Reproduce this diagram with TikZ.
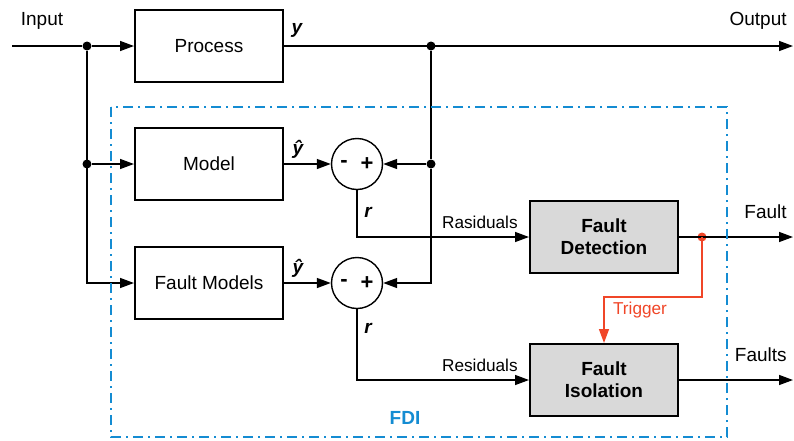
\documentclass[tikz,border=0pt]{standalone}
\usepackage{fontspec}
\setmainfont{Liberation Sans}
\usetikzlibrary{calc,
arrows.meta,
positioning}
\definecolor{fdiblue}{RGB}{20,140,210}
\definecolor{trigred}{RGB}{240,70,40}
\definecolor{boxgray}{RGB}{217,217,217}

\begin{document}
\begin{tikzpicture} [x=0.5pt, y=-0.5pt,
    -{Triangle[length=7pt,width=5pt]},
    line width=0.7pt,
    every node/.style={font={\fontsize{9.5}{11}\selectfont}},
    main node/.style={rectangle, draw, line width=1pt,
        minimum width=74pt, minimum height=36pt, align=center},
    fdi node/.style={main node, fill = boxgray,
        font={\fontsize{9.5}{11}\selectfont\bfseries}},
    sum node/.style={circle, draw, minimum size=25.5pt, inner sep=0pt},
    junc/.style={circle, fill, inner sep=0pt, minimum size=4.5pt},
    sig/.style={font={\fontsize{9.5}{11}\selectfont\bfseries\itshape}},
    side/.style={font={\fontsize{8.6}{10}\selectfont}}
  ]

  \useasboundingbox (0,0) rectangle (794,440);

  % blocks
  \node [main node] (process) at (209, 46)  {Process};
  \node [main node] (model)   at (209, 164) {Model};
  \node [main node] (fmodel)  at (209, 283) {Fault Models};
  \node [fdi node]  (detect)  at (604, 237) {Fault\\Detection};
  \node [fdi node]  (isolate) at (604, 380) {Fault\\Isolation};

  \node [sum node] (sum1) at (357, 164) {};
  \node [sum node] (sum2) at (357, 283) {};
  \foreach \s in {sum1, sum2} {
    \node [font={\fontsize{11}{11}\selectfont\bfseries}] at ($(\s.center)+(-13,0)$) {-};
    \node [font={\fontsize{11}{11}\selectfont\bfseries}] at ($(\s.center)+(10,0)$) {+};
  }

  % junctions
  \node [junc] (jin)  at (87, 46)  {};
  \node [junc] (jmod) at (87, 164) {};
  \node [junc] (jout) at (431, 46) {};
  \node [junc] (jy)   at (431, 164) {};
  \node [junc, trigred] (jtrig) at (702, 237) {};

  \coordinate (in)     at (12, 46);
  \coordinate (out)    at (793, 46);
  \coordinate (fault)  at (793, 237);
  \coordinate (faults) at (793, 380);
  \coordinate (tbend)  at (702, 297);

  % input side
  \draw [-] (in) -- (jin);
  \draw (jin) -- (process.west);
  \draw (jmod) -- (model.west);
  \draw (jin) |- (fmodel.west);

  % output side
  \draw (process.east) -- (out);
  \draw [-] (jout) -- (jy);
  \draw (jy) -- (sum1.east);
  \draw (jy) |- (sum2.east);
  \draw (model.east) -- (sum1.west);
  \draw (fmodel.east) -- (sum2.west);

  % residuals
  \draw (sum1.south) |- (detect.west);
  \draw (sum2.south) |- (isolate.west);
  \draw (detect.east) -- (fault);
  \draw (isolate.east) -- (faults);
  \draw [trigred] (jtrig.center) -- (tbend) -| (isolate.north);

  % FDI frame
  \draw [-, fdiblue, line width=1pt, dash pattern=on 5pt off 2.5pt on 1pt off 2.5pt]
    (111, 107) rectangle (727, 437);
  \node [text=fdiblue, font={\fontsize{9.5}{11}\selectfont\bfseries}] (fdi) at (405, 418) {FDI};

  % labels
  \node (inlbl)  at (42, 21)  {Input};
  \node [anchor=east] (outlbl) at (794, 21) {Output};
  \node [anchor=east] (fltlbl) at (794, 212) {Fault};
  \node [anchor=east] (fltslbl) at (794, 355) {Faults};
  \node [sig] (ylbl)  at (297, 30)  {y};
  \node [sig] (yh1)   at (298, 149) {ŷ};
  \node [sig] (yh2)   at (298, 268) {ŷ};
  \node [sig] (r1)    at (368, 212) {r};
  \node [sig] (r2)    at (368, 328) {r};
  \node [side, anchor=south east] (res1) at (525, 236) {Rasiduals};
  \node [side, anchor=south east] (res2) at (525, 379) {Residuals};
  \node [side, text=trigred] (trig) at (640, 310) {Trigger};

\end{tikzpicture}
\end{document}
